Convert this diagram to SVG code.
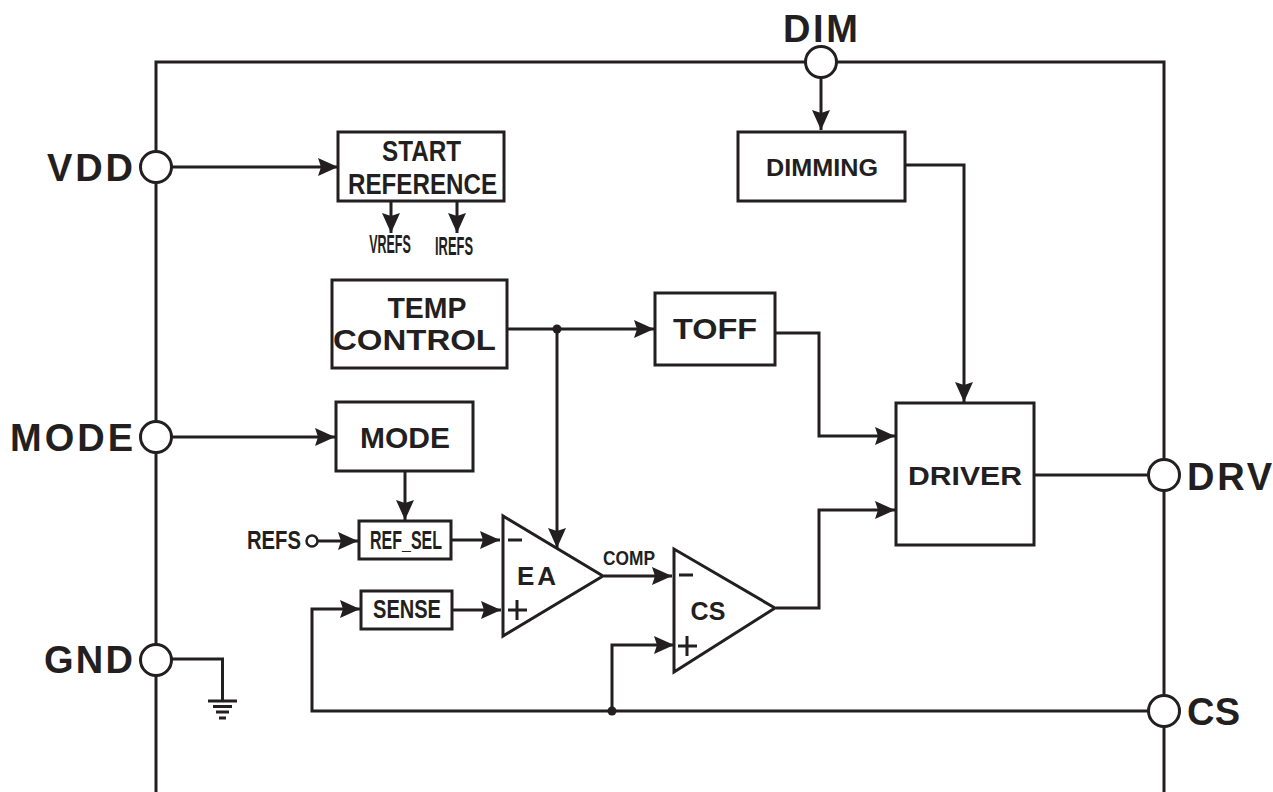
<svg xmlns="http://www.w3.org/2000/svg" width="1273" height="792" viewBox="0 0 1273 792">
<style>
text{font-family:"Liberation Sans",Arial,sans-serif;font-weight:bold;fill:#231f20;text-anchor:middle}
.l{fill:none;stroke:#231f20;stroke-width:3}
.a{fill:none;stroke:#231f20;stroke-width:3;marker-end:url(#ah)}
.b{fill:#fff;stroke:#231f20;stroke-width:3}
.p{fill:#fff;stroke:#231f20;stroke-width:3}
.pin{font-size:38px}
.big{font-size:30px}
.nar{font-size:25px}
</style>
<defs>
<marker id="ah" markerUnits="userSpaceOnUse" markerWidth="21" markerHeight="20" refX="20" refY="9" orient="auto"><path d="M0 0L20 9L0 18L3 9Z" fill="#231f20"/></marker>
</defs>
<rect width="1273" height="792" fill="#fff"/>
<g id="frame"><path class="l" d="M156 792V62H1164V792"/></g>
<g id="connectors">
<path class="a" d="M172 167H338"/>
<path class="a" d="M821 77V130"/>
<path class="a" d="M905 165H964V402"/>
<path class="a" d="M391 202V233"/>
<path class="a" d="M457 202V233"/>
<path class="a" d="M507 329H654"/>
<path class="a" d="M557 329V548"/>
<path class="a" d="M775 333H819V436H895"/>
<path class="a" d="M172 437H335"/>
<path class="a" d="M405 472V520"/>
<path class="a" d="M318 541H358"/>
<path class="a" d="M452 540H500"/>
<path class="a" d="M453 610H501"/>
<path class="a" d="M1150 711H312V609H360"/>
<path class="a" d="M612 711V645H674"/>
<path class="a" d="M604 576H672"/>
<path class="a" d="M776 608H819V510H895"/>
<path class="l" d="M1034 475H1150"/>
<path class="l" d="M172 659H222.500V700"/>
<circle cx="557" cy="329" r="4.500" fill="#231f20"/>
<circle cx="612" cy="711" r="4.500" fill="#231f20"/>
<path class="l" d="M208 701H237M213 706.500H232M216 712H229M219 718H226"/>
</g>
<g id="pin-dim"><text class="pin" x="820.500" y="42" textLength="75">DIM</text><circle class="p" cx="821" cy="62" r="15.500"/></g>
<g id="pin-vdd"><text class="pin" x="90" y="181" textLength="86">VDD</text><circle class="p" cx="156" cy="167" r="15.500"/></g>
<g id="pin-mode"><text class="pin" x="71.500" y="451" textLength="123">MODE</text><circle class="p" cx="156" cy="437" r="15.500"/></g>
<g id="pin-gnd"><text class="pin" x="88.500" y="673" textLength="89">GND</text><circle class="p" cx="156" cy="660" r="15.500"/></g>
<g id="pin-drv"><text class="pin" x="1229.500" y="490" textLength="85">DRV</text><circle class="p" cx="1164" cy="475" r="15.500"/></g>
<g id="pin-cs"><text class="pin" x="1213.500" y="725" textLength="53">CS</text><circle class="p" cx="1164" cy="711" r="15.500"/></g>
<g id="start-reference"><rect class="b" x="338" y="132" width="166" height="69"/><text x="421.500" y="161" font-size="29" textLength="79" lengthAdjust="spacingAndGlyphs">START</text><text x="422.500" y="194" font-size="29" textLength="149" lengthAdjust="spacingAndGlyphs">REFERENCE</text></g>
<g id="vrefs"><text class="nar" transform="translate(390 253) scale(.5 1)">VREFS</text></g>
<g id="irefs"><text class="nar" transform="translate(454 255) scale(.516 1)">IREFS</text></g>
<g id="dimming"><rect class="b" x="738" y="132" width="167" height="69"/><text x="822" y="176" font-size="24" textLength="112" lengthAdjust="spacingAndGlyphs">DIMMING</text></g>
<g id="temp-control"><rect class="b" x="332" y="280" width="175" height="88"/><text class="big" x="427" y="318" textLength="79" lengthAdjust="spacingAndGlyphs">TEMP</text><text class="big" x="414.500" y="350" textLength="163" lengthAdjust="spacingAndGlyphs">CONTROL</text></g>
<g id="toff"><rect class="b" x="655" y="293" width="120" height="72"/><text class="big" x="715" y="339" textLength="84" lengthAdjust="spacingAndGlyphs">TOFF</text></g>
<g id="mode"><rect class="b" x="336" y="402" width="137" height="69"/><text class="big" x="405" y="448" textLength="90" lengthAdjust="spacingAndGlyphs">MODE</text></g>
<g id="driver"><rect class="b" x="896" y="403" width="138" height="142"/><text x="965" y="485" font-size="26" textLength="114" lengthAdjust="spacingAndGlyphs">DRIVER</text></g>
<g id="refs"><text class="nar" x="274" y="549" textLength="54" lengthAdjust="spacingAndGlyphs">REFS</text><circle cx="312" cy="541" r="5.500" fill="#fff" stroke="#231f20" stroke-width="2.500"/></g>
<g id="ref-sel"><rect class="b" x="359" y="521" width="92" height="38"/><text class="nar" x="406" y="549" textLength="72" lengthAdjust="spacingAndGlyphs">REF_SEL</text></g>
<g id="sense"><rect class="b" x="361" y="591" width="91" height="38"/><text class="nar" x="407" y="618" textLength="68" lengthAdjust="spacingAndGlyphs">SENSE</text></g>
<g id="ea"><path class="b" d="M503 516V636L603 576Z"/><text x="536.500" y="585" font-size="26" textLength="39">EA</text><path class="l" d="M508 540H522M508 610H527M517 600V620"/></g>
<g id="comp-label"><text x="629" y="565" font-size="21" textLength="52" lengthAdjust="spacingAndGlyphs">COMP</text></g>
<g id="cs-amp"><path class="b" d="M674 549V672L775 608Z"/><text x="708" y="620" font-size="25" textLength="35">CS</text><path class="l" d="M679 575H693M678 646H697M687 636V656"/></g>
</svg>
